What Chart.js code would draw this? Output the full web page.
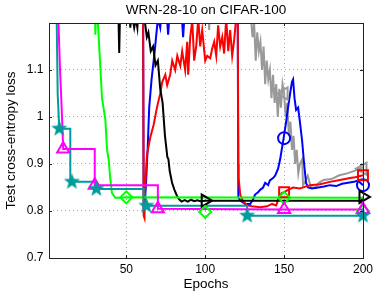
<!DOCTYPE html>
<html>
<head>
<meta charset="utf-8">
<script src="https://cdn.jsdelivr.net/npm/chart.js@4/dist/chart.umd.min.js"></script>
<style>
  html, body { margin: 0; padding: 0; background: #fff; }
</style>
</head>
<body>
<canvas id="lossChart" width="377" height="294"></canvas>
<script>
// axis ticks
const xTicks = [50, 100, 150, 200];
const yTicks = [0.7, 0.8, 0.9, 1, 1.1, 1.2];

// black: default schedule
const blackEpoch = [1, 44.5, 45.5, 46.5, 52, 52.5, 53.5, 55, 56, 57, 58, 60, 61.5, 63, 64, 65.5, 67, 68.5, 70, 71.5, 73, 74.5, 75.5, 76, 76.7, 77.5, 79, 80.5, 82, 83.5, 85, 87, 89, 91, 93, 95, 97, 100, 199, 200];
const blackLoss = [1.4, 1.3, 1.136, 1.3, 1.25, 1.19, 1.22, 1.19, 1.21, 1.19, 1.25, 1.3, 1.21, 1.17, 1.18, 1.14, 1.15, 1.11, 1.12, 1.06, 1.03, 0.96, 0.93, 0.915, 0.91, 0.885, 0.86, 0.845, 0.833, 0.825, 0.82, 0.823, 0.82, 0.824, 0.821, 0.823, 0.821, 0.822, 0.822, 0.83];
const blackMarkEpoch = [100, 200];
const blackMarkLoss = [0.822, 0.83];

// red
const redEpoch = [60.5, 61, 61.5, 62, 63.1, 65.2, 67.3, 69.4, 71.5, 72.8, 74.7, 75.9, 77.8, 79.1, 81, 82.3, 84.2, 85.4, 87.3, 88.6, 89.2, 90.5, 91.8, 93, 94.3, 95.6, 96.8, 98.1, 100, 101.3, 103.2, 104.4, 105.7, 107, 108.2, 109.5, 110.8, 112, 113.3, 114.6, 115.8, 117.1, 118.4, 119.6, 120.6, 121, 121.2, 122.2, 124, 126.6, 129.7, 134.8, 139.2, 142.4, 145, 146.8, 148.5, 150, 152.5, 155.7, 160, 166.5, 172.8, 179, 185.4, 191.8, 195, 200];
const redLoss = [1.4, 0.79, 0.785, 0.86, 0.92, 0.957, 0.983, 1.02, 1.05, 1.075, 1.09, 1.068, 1.09, 1.12, 1.1, 1.13, 1.109, 1.14, 1.1, 1.16, 1.09, 1.17, 1.205, 1.12, 1.15, 1.21, 1.15, 1.185, 1.12, 1.13, 1.125, 1.145, 1.16, 1.13, 1.195, 1.15, 1.17, 1.135, 1.21, 1.14, 1.185, 1.13, 1.165, 1.21, 1.25, 0.9, 0.87, 0.835, 0.82, 0.812, 0.81, 0.808, 0.81, 0.815, 0.812, 0.83, 0.838, 0.84, 0.845, 0.85, 0.848, 0.855, 0.857, 0.862, 0.866, 0.87, 0.872, 0.876];
const redMarkEpoch = [150, 200];
const redMarkLoss = [0.84, 0.876];

// blue
const blueEpoch = [60.5, 61, 61.8, 62.5, 63.5, 64.5, 66, 68, 70, 71.5, 73, 75, 76.5, 78, 84.5, 86, 87.5, 120.5, 121, 122.2, 125.3, 128.5, 130.4, 131.6, 133.5, 134.8, 136.7, 138, 139.9, 141, 143, 144.3, 146.2, 147.5, 148.7, 149.7, 151.3, 152.5, 153.8, 155, 155.7, 156.6, 157.6, 158.9, 160, 161.4, 162.7, 163.9, 165.2, 167.7, 171.5, 175.3, 179, 183, 186.7, 190.5, 194.3, 196.8, 200];
const blueLoss = [1.4, 0.8, 0.82, 0.86, 0.93, 1.02, 1.08, 1.14, 1.21, 1.19, 1.25, 1.25, 1.175, 1.25, 1.25, 1.17, 1.25, 1.3, 0.83, 0.822, 0.815, 0.815, 0.825, 0.835, 0.84, 0.845, 0.85, 0.86, 0.855, 0.865, 0.87, 0.875, 0.89, 0.91, 0.935, 0.955, 0.99, 1.02, 1.05, 1.075, 1.08, 1.04, 1.015, 1.02, 0.99, 0.95, 0.9, 0.86, 0.85, 0.848, 0.85, 0.852, 0.855, 0.853, 0.858, 0.86, 0.862, 0.865, 0.855];
const blueMarkEpoch = [150, 200];
const blueMarkLoss = [0.955, 0.855];

// gray
const grayEpoch = [1, 101.5, 102.5, 103.5, 128, 129, 130, 131, 132, 133, 134, 135, 136, 137, 138, 139, 140, 141, 142, 143, 144, 145, 146, 147, 148, 149, 150, 151, 152, 153, 154, 155, 156, 157, 158, 159, 160, 161.5, 162, 163, 165, 167, 170, 172, 175, 180, 185, 190, 195, 200];
const grayLoss = [1.3, 1.3, 1.185, 1.3, 1.3, 1.21, 1.17, 1.2, 1.12, 1.18, 1.14, 1.16, 1.1, 1.15, 1.07, 1.12, 1.08, 1.1, 1.04, 1.09, 1.03, 1.07, 1.0, 1.06, 1.02, 1.07, 1.05, 1.0, 1.03, 0.96, 0.99, 0.93, 0.96, 0.9, 0.93, 0.88, 0.9, 0.91, 0.855, 0.86, 0.875, 0.85, 0.85, 0.86, 0.866, 0.868, 0.876, 0.88, 0.886, 0.893];
const grayMarkEpoch = [150, 200];
const grayMarkLoss = [1.05, 0.89];

// green
const greenEpoch = [29.5, 30.4, 31, 32, 34.6, 36.7, 37.8, 38.8, 39.9, 40.9, 43, 46.2, 50, 200];
const greenLoss = [1.3, 1.175, 1.25, 1.2, 1.04, 0.995, 0.93, 0.91, 0.866, 0.838, 0.828, 0.828, 0.829, 0.828];
const greenMarkEpoch = [50, 100, 150, 200];
const greenMarkLoss = [0.829, 0.798, 0.828, 0.8];

// magenta
const magEpoch = [6.5, 7, 8, 8.9, 10, 30, 30, 70, 70, 150, 200];
const magLoss = [1.3, 1.2, 1.1, 1.03, 0.932, 0.932, 0.855, 0.855, 0.805, 0.803, 0.803];
const magMarkEpoch = [10, 30, 70, 150, 200];
const magMarkLoss = [0.932, 0.855, 0.805, 0.803, 0.803];

// teal
const tealEpoch = [5.5, 6.5, 7.5, 14.5, 14.5, 30.5, 30.5, 61, 61, 126.6, 126.6, 200];
const tealLoss = [1.3, 1.05, 0.975, 0.975, 0.862, 0.862, 0.847, 0.847, 0.811, 0.811, 0.79, 0.79];
const tealMarkEpoch = [7.5, 15.5, 31, 62.7, 126.6, 200];
const tealMarkLoss = [0.975, 0.862, 0.847, 0.811, 0.79, 0.79];

const toPoints = (xs, ys) => xs.map((x, i) => ({x: x, y: ys[i]}));

// filled five point star, drawn once and used as marker
function makeStar(size, color) {
    const c = document.createElement('canvas');
    c.width = size; c.height = size;
    const g = c.getContext('2d');
    g.beginPath();
    for (let i = 0; i < 10; i++) {
        const r = i % 2 ? size * 0.21 : size * 0.5;
        const a = -Math.PI / 2 + i * Math.PI / 5;
        g.lineTo(size / 2 + r * Math.cos(a), size / 2 + r * Math.sin(a));
    }
    g.closePath();
    g.fillStyle = color;
    g.fill();
    return c;
}

function lineSet(xs, ys, color) {
    return {data: toPoints(xs, ys), borderColor: color, borderWidth: 2, pointRadius: 0,
        fill: false, tension: 0, clip: {left: 0, top: 0, right: 12, bottom: 0}};
}
function markSet(xs, ys, color, style, radius, rotation) {
    return {data: toPoints(xs, ys), showLine: false, borderColor: color, pointBorderColor: color,
        pointBackgroundColor: 'rgba(0,0,0,0)', pointBorderWidth: 2, pointStyle: style,
        pointRadius: radius, pointRotation: rotation || 0, clip: false};
}

const tealColor = '#009b9b';
const gridGray = '#a8a8a8';
const family = 'Liberation Sans, Arial, sans-serif';
const tickFont = {family: family, size: 12};
const labelFont = {family: family, size: 13.5};

const boxPlugin = {
    id: 'box',
    afterDatasetsDraw(chart) {
        const {ctx, chartArea: a, scales} = chart;
        ctx.save();
        ctx.strokeStyle = '#222';
        ctx.lineWidth = 1;
        ctx.strokeRect(a.left + 0.5, a.top + 0.5, a.right - a.left, a.bottom - a.top);
        ctx.beginPath();
        xTicks.forEach(function (v) {
            const px = Math.round(scales.x.getPixelForValue(v)) + 0.5;
            ctx.moveTo(px, a.bottom); ctx.lineTo(px, a.bottom - 3);
            ctx.moveTo(px, a.top); ctx.lineTo(px, a.top + 3);
        });
        yTicks.forEach(function (v) {
            const py = Math.round(scales.y.getPixelForValue(v)) + 0.5;
            ctx.moveTo(a.left, py); ctx.lineTo(a.left + 3, py);
            ctx.moveTo(a.right, py); ctx.lineTo(a.right - 3, py);
        });
        ctx.stroke();
        ctx.restore();
    }
};

let ctx = document.getElementById('lossChart').getContext('2d');

let lossChart = new Chart(ctx, {
    type: 'line',
    data: {
        datasets: [
            markSet(tealMarkEpoch, tealMarkLoss, tealColor, makeStar(17, tealColor), 8),
            markSet(magMarkEpoch, magMarkLoss, '#ff00ff', 'triangle', 7),
            markSet(greenMarkEpoch, greenMarkLoss, '#00ff00', 'rectRot', 6),
            markSet(blackMarkEpoch, blackMarkLoss, '#000000', 'triangle', 7, 90),
            markSet(redMarkEpoch, redMarkLoss, '#ff0000', 'rect', 7),
            markSet(blueMarkEpoch, blueMarkLoss, '#0000ff', 'circle', 6),
            markSet(grayMarkEpoch, grayMarkLoss, '#999999', 'triangle', 7, -90),
            lineSet(magEpoch, magLoss, '#ff00ff'),
            lineSet(tealEpoch, tealLoss, tealColor),
            lineSet(greenEpoch, greenLoss, '#00ff00'),
            lineSet(blackEpoch, blackLoss, '#000000'),
            lineSet(redEpoch, redLoss, '#ff0000'),
            lineSet(blueEpoch, blueLoss, '#0000ff'),
            lineSet(grayEpoch, grayLoss, '#999999')
        ]
    },
    options: {
        responsive: false,
        animation: false,
        devicePixelRatio: 1,
        layout: {padding: {left: 0, right: 14, top: 0, bottom: 0}},
        plugins: {
            legend: {display: false},
            tooltip: {enabled: false},
            title: {
                display: true,
                fullSize: false,
                text: 'WRN-28-10 on CIFAR-100',
                color: '#000',
                font: {family: family, size: 13.5, weight: 'normal'},
                padding: {top: 2, bottom: 4.8}
            }
        },
        scales: {
            x: {
                type: 'linear',
                min: 1,
                max: 200,
                afterBuildTicks: function (scale) { scale.ticks = xTicks.map(v => ({value: v})); },
                afterFit: function (scale) { scale.height = 36; },
                ticks: {color: '#000', font: tickFont, padding: 4, maxRotation: 0, autoSkip: false},
                grid: {
                    drawTicks: false,
                    color: c => (c.tick && c.tick.value < 200) ? gridGray : 'rgba(0,0,0,0)'
                },
                border: {display: false, dash: [1, 3]},
                title: {display: true, text: 'Epochs', color: '#000', font: labelFont, padding: {top: 0, bottom: 2}}
            },
            y: {
                type: 'linear',
                min: 0.7,
                max: 1.2,
                afterBuildTicks: function (scale) { scale.ticks = yTicks.map(v => ({value: v})); },
                afterFit: function (scale) { scale.width = 49; },
                ticks: {
                    color: '#000', font: tickFont, padding: 5.5,
                    callback: v => (v >= 1.2 ? '' : String(v))
                },
                grid: {
                    drawTicks: false,
                    color: c => (c.tick && c.tick.value > 0.7 && c.tick.value < 1.2) ? gridGray : 'rgba(0,0,0,0)'
                },
                border: {display: false, dash: [1, 3]},
                title: {display: true, text: 'Test cross-entropy loss', color: '#000', font: labelFont, padding: {top: 3, bottom: 0}}
            }
        }
    },
    plugins: [boxPlugin]
});
</script>
</body>
</html>
